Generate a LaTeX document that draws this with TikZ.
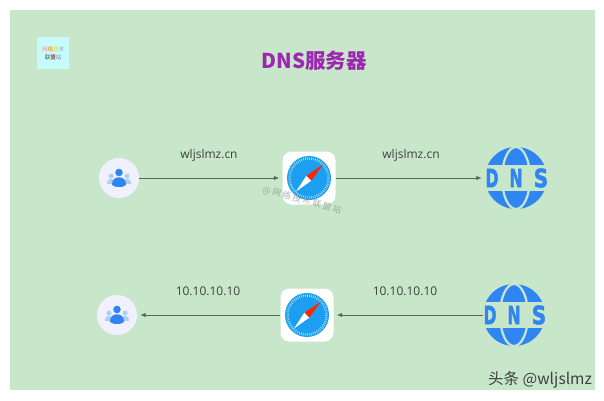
\documentclass[tikz,border=0pt]{standalone}
\usepackage{fontspec}
\usepackage{tikz}
\usetikzlibrary{arrows.meta}
\setmainfont{Open Sans}
\newfontfamily\cjk{Noto Sans CJK SC}
\newfontfamily\blockfont[BoldFeatures={FakeBold=2.5}]{DejaVu Sans}
\definecolor{paper}{HTML}{C8E6C9}
\definecolor{iconblue}{HTML}{2F86F2}
\definecolor{dialblue}{HTML}{1C9FF0}
\definecolor{titlepurple}{HTML}{9C27B0}
\definecolor{linegray}{HTML}{4F6B52}
\definecolor{logocyan}{HTML}{C6FBFB}
\tikzset{
  usernode/.style={circle, fill=blue!6, minimum size=40pt, inner sep=0pt},
  safarinode/.style={rectangle, rounded corners=9pt, fill=white, minimum size=53pt, inner sep=0pt},
  dnsnode/.style={circle, minimum size=62pt, inner sep=0pt},
  linktext/.style={text=black!75, font=\fontsize{12}{14}\selectfont},
  dnsletter/.style={text=iconblue, inner sep=0pt, font=\blockfont\fontsize{25}{25}\selectfont\bfseries},
  hop/.style={draw=linegray, line width=1pt, -{Latex[length=5.5pt,width=4.5pt]}, shorten >=3pt},
  usericon/.pic={
    \fill[iconblue!40] (-8,-2) circle (2.5);
    \fill[iconblue!40] (8,-2) circle (2.5);
    \fill[iconblue!40] (-12,6) .. controls (-12,-1) and (-4,-1) .. (-4,6) -- cycle;
    \fill[iconblue!40] (4,6) .. controls (4,-1) and (12,-1) .. (12,6) -- cycle;
    \fill[iconblue] (0,-5.5) circle (3.8);
    \fill[iconblue] (-7,6) .. controls (-7,-3) and (7,-3) .. (7,6) .. controls (7,10) and (-7,10) .. (-7,6) -- cycle;
  },
  safariicon/.pic={
    \fill[dialblue] (0,0) circle (22);
    \draw[white!70!dialblue, line width=2.5pt, dash pattern=on 0.6pt off 1.4pt] (0,0) circle (19.5);
    \fill[white] (-13,13.5) -- (-2.5,-2.5) -- (2.5,2.5) -- cycle;
    \fill[red!70!orange] (14,-13.5) -- (-2.5,-2.5) -- (2.5,2.5) -- cycle;
  },
  dnsicon/.pic={
    \fill[iconblue] (0,0) circle (31);
    \draw[paper, line width=2.2pt] (0,0) ellipse (14 and 31);
    \fill[paper] (-34,-13) rectangle (34,13);
    \node[dnsletter] at (-24,0) {\scalebox{0.62}[1]{D}};
    \node[dnsletter] at (0,0) {\scalebox{0.62}[1]{N}};
    \node[dnsletter] at (25,0) {\scalebox{0.8}[1]{S}};
  }
}
\begin{document}
\begin{tikzpicture}[x=1pt, y=-1pt]
\useasboundingbox (0,0) rectangle (604,400);
\fill[paper] (10,10) rectangle (595,390);

\node[rectangle, fill=logocyan, minimum size=32pt, inner sep=0pt] (logo) at (53,53) {};
\node[font=\cjk\fontsize{5.5}{7}\selectfont, align=center, inner sep=0pt] (logotext) at (53,53)
  {\textcolor{red!45}{网}\textcolor{orange}{络}\textcolor{yellow!70!orange}{技}\textcolor{blue!40}{术}\\[1pt]\textcolor{black!70}{联}\textcolor{red!50!black}{盟}\textcolor{blue!30!black!50}{站}};

\node[text=titlepurple, font=\cjk\fontsize{20.5}{24}\selectfont\bfseries] (title) at (314,61) {DNS服务器};

\node[usernode] (user1) at (119,178) {};
\node[safarinode] (safari1) at (309,178) {};
\node[dnsnode] (dns1) at (516,178) {};
\node[usernode] (user2) at (117,315) {};
\node[safarinode] (safari2) at (307,315) {};
\node[dnsnode] (dns2) at (514,315) {};

\pic at (user1) {usericon};
\pic at (safari1) {safariicon};
\pic at (dns1) {dnsicon};
\pic at (user2) {usericon};
\pic at (safari2) {safariicon};
\pic at (dns2) {dnsicon};

\draw[hop] (user1) to (safari1);
\draw[hop] (safari1) to (dns1);
\draw[hop] (dns2) to (safari2);
\draw[hop] (safari2) to (user2);

\node[linktext] (name1) at (209,155) {wljslmz.cn};
\node[linktext] (name2) at (411,155) {wljslmz.cn};
\node[linktext] (addr1) at (208,291) {10.10.10.10};
\node[linktext] (addr2) at (405,291) {10.10.10.10};

\node[rotate=-15, text=black!45, opacity=0.7, font=\cjk\fontsize{8.5}{10}\selectfont] (mark) at (302,200) {@ 网 络 技 术 联 盟 站};
\node[text=black!75, font=\cjk\fontsize{15.5}{18}\selectfont] (credit) at (540,380) {头条 @wljslmz};
\end{tikzpicture}
\end{document}
